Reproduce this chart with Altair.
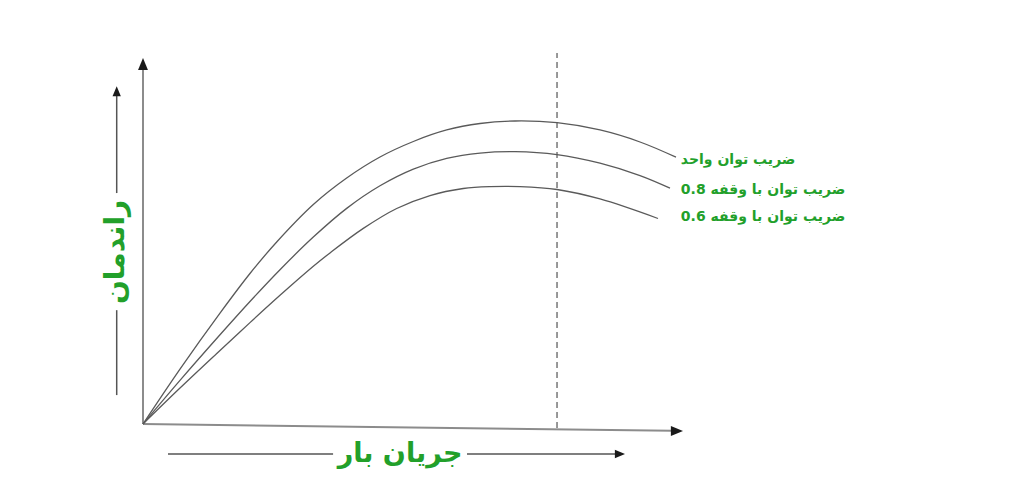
import altair as alt
import pandas as pd

# --- data (load %, efficiency %) ---
series_names = ["ضریب توان واحد", "ضریب توان با وقفه 0.8", "ضریب توان با وقفه 0.6"]

x_unity = [0, 6.85, 14.26, 19.81, 24.76, 31.54, 37.72, 43.89, 50.06, 56.24, 62.41, 68.89, 76.67, 84.63, 92.04, 98.70]
y_unity = [0, 15.00, 30.30, 41.12, 49.73, 59.97, 67.21, 72.95, 77.19, 80.33, 82.10, 82.79, 82.32, 80.33, 77.05, 72.90]

x_pf08 = [0, 6.85, 14.26, 19.81, 25.37, 31.54, 37.72, 43.89, 50.06, 56.24, 62.41, 68.89, 76.67, 84.63, 92.04, 97.59]
y_pf08 = [0, 11.91, 24.37, 33.47, 42.16, 51.07, 58.91, 65.08, 69.64, 72.57, 74.02, 74.40, 73.61, 71.26, 67.87, 64.43]

x_pf06 = [0, 6.85, 14.26, 19.81, 25.37, 31.54, 34.63, 40.80, 46.98, 53.15, 59.31, 64.26, 69.81, 76.67, 84.63, 95.37]
y_pf06 = [0, 9.81, 20.08, 27.70, 35.16, 43.09, 46.75, 53.44, 58.88, 62.43, 64.34, 64.86, 64.86, 64.07, 61.48, 56.15]

label_x = [99.6, 99.6, 99.6]
label_y = [72.1, 63.9, 56.6]

rated_load = 76.67          # dashed vertical line
x_title = "جریان بار"
y_title = "راندمان"

GREEN = "#22a02a"
CURVE = "#5a5a5a"
AXIS = "#8c8c8c"
FONT = "DejaVu Sans"

rows = []
for name, xs_, ys_ in zip(series_names, [x_unity, x_pf08, x_pf06], [y_unity, y_pf08, y_pf06]):
    for i, (a, b) in enumerate(zip(xs_, ys_)):
        rows.append({"series": name, "x": a, "y": b, "i": i})
curves_df = pd.DataFrame(rows)

xs = alt.Scale(domain=[0, 100], nice=False, zero=False)
ys = alt.Scale(domain=[0, 100], nice=False, zero=False)

def X(f="x"):
    return alt.X(f"{f}:Q", scale=xs, axis=None)

def Y(f="y"):
    return alt.Y(f"{f}:Q", scale=ys, axis=None)

curves = alt.Chart(curves_df).mark_line(
    interpolate="catmull-rom", color=CURVE, strokeWidth=1.3, clip=False
).encode(x=X(), y=Y(), detail="series:N", order="i:Q")

labels_df = pd.DataFrame({
    "x": label_x, "y": label_y,
    "t": ["\u202b" + s + "\u202c" for s in series_names],
})
labels = alt.Chart(labels_df).mark_text(
    align="left", baseline="middle", font=FONT, fontSize=14, fontWeight="bold",
    color=GREEN, clip=False
).encode(x=X(), y=Y(), text="t:N")

# axes (drawn as rules)
axes_df = pd.DataFrame({
    "x": [0, 0], "y": [0, 0], "x2": [0, 98], "y2": [98, -1.86],
})
axes = alt.Chart(axes_df).mark_rule(color=AXIS, strokeWidth=2, clip=False).encode(
    x=X(), y=Y(), x2="x2:Q", y2="y2:Q"
)

dash_df = pd.DataFrame({"x": [rated_load], "y": [-1.1], "y2": [101.4]})
dashed = alt.Chart(dash_df).mark_rule(
    color="#555555", strokeWidth=1.2, strokeDash=[6, 4], clip=False
).encode(x=X(), y=Y(), y2="y2:Q")

# title guide lines
guides_df = pd.DataFrame({
    "x": [-4.87, -4.87, 4.63, 60.0],
    "y": [7.9, 63.1, -8.2, -8.2],
    "x2": [-4.87, -4.87, 35.2, 87.5],
    "y2": [31.1, 90.0, -8.2, -8.2],
})
guides = alt.Chart(guides_df).mark_rule(color="#555555", strokeWidth=1.5, clip=False).encode(
    x=X(), y=Y(), x2="x2:Q", y2="y2:Q"
)

up_shape = "M0,0L0.45,1.1L-0.45,1.1Z"
right_shape = "M0,0L-1.1,-0.45L-1.1,0.45Z"

heads_up_df = pd.DataFrame({"x": [0, -4.87], "y": [100, 92.3], "s": [484, 340]})
heads_up = alt.Chart(heads_up_df).mark_point(
    shape=up_shape, filled=True, color="#1a1a1a", opacity=1, clip=False
).encode(x=X(), y=Y(), size=alt.Size("s:Q", scale=None, legend=None))

heads_right_df = pd.DataFrame({"x": [100, 89.26], "y": [-1.9, -8.2], "s": [484, 340]})
heads_right = alt.Chart(heads_right_df).mark_point(
    shape=right_shape, filled=True, color="#1a1a1a", opacity=1, clip=False
).encode(x=X(), y=Y(), size=alt.Size("s:Q", scale=None, legend=None))

titles_df = pd.DataFrame({
    "x": [47.6, -5.0], "y": [-8.2, 47.0], "t": [x_title, y_title],
})
xtitle = alt.Chart(titles_df.iloc[[0]]).mark_text(
    align="center", baseline="middle", font=FONT, fontSize=27, fontWeight="bold",
    color=GREEN, clip=False
).encode(x=X(), y=Y(), text="t:N")
ytitle = alt.Chart(titles_df.iloc[[1]]).mark_text(
    align="center", baseline="middle", font=FONT, fontSize=28, fontWeight="bold",
    color=GREEN, angle=270, clip=False
).encode(x=X(), y=Y(), text="t:N")

chart = alt.layer(
    axes, dashed, curves, guides, heads_up, heads_right, labels, xtitle, ytitle
).properties(
    width=540, height=366,
    padding={"left": 135, "top": 50, "right": 330, "bottom": 48},
    autosize=alt.AutoSizeParams(type="none"),
    background="white",
).configure_view(stroke=None)

chart.save("out.html", embed_options={"renderer": "svg", "actions": False})
